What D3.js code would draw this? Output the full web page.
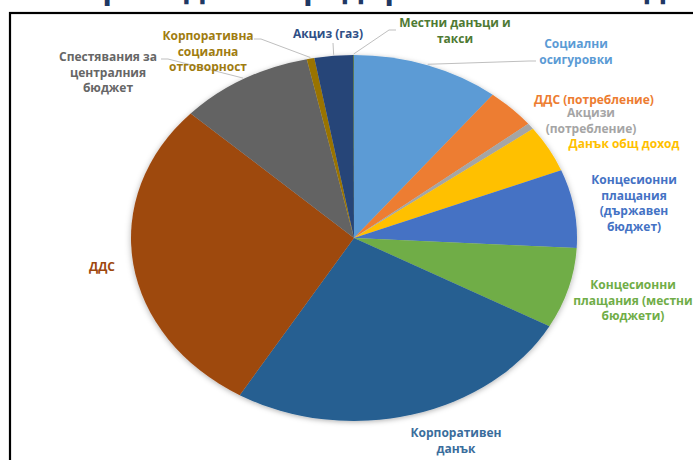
<!DOCTYPE html>
<html><head><meta charset="utf-8">
<script src="https://cdn.jsdelivr.net/npm/d3@7"></script>
<style>
html,body{margin:0;padding:0;background:#fff;overflow:hidden}
svg{display:block;font-family:"Open Sans",sans-serif}
</style></head>
<body>
<svg id="chart" width="693" height="460"></svg>
<script>
// ---- data ----
const categories = [
  "Социални осигуровки","ДДС (потребление)","Акцизи (потребление)","Данък общ доход",
  "Концесионни плащания (държавен бюджет)","Концесионни плащания (местни бюджети)",
  "Корпоративен данък","ДДС","Спестявания за централния бюджет",
  "Корпоративна социална отговорност","Акциз (газ)","Местни данъци и такси"
];
const values = [10.7, 3.6, 0.55, 4.15, 6.9, 7.15, 25.6, 28.4, 9.7, 0.55, 2.8, 0.05];
const labelLines = [
  ["Социални","осигуровки"],["ДДС (потребление)"],["Акцизи","(потребление)"],["Данък общ доход"],
  ["Концесионни","плащания","(държавен","бюджет)"],["Концесионни","плащания (местни","бюджети)"],
  ["Корпоративен","данък"],["ДДС"],["Спестявания за","централния","бюджет"],
  ["Корпоративна","социална","отговорност"],["Акциз (газ)"],["Местни данъци и","такси"]
];
const titleText = "Бюджетни приходи от предприятието по вид приход";

// ---- styles / layout ----
const palette = ["#5B9BD5","#ED7D31","#A5A5A5","#FFC000","#4472C4","#70AD47",
                 "#255E91","#9E480E","#636363","#997300","#264478","#43682B"];
const labelColors = ["#5B9BD5","#ED7D31","#A5A5A5","#FFC000","#4472C4","#70AD47",
                 "#3A6D9C","#9E480E","#666666","#A07C10","#2F4F86","#4E7A33"];
// label anchor: [centerX, firstBaselineY]
const labelPos = [[576,48],[594,104],[591,117],[624,148],[634,184],[633,289],
                  [456,437],[102,271],[108,61],[208,40],[328,38],[455,27]];
// leader start points (near label) or null
const leaderStart = [[536,61],null,null,null,null,null,null,null,[161,59],[254,39],[333,43],[396,30]];
const lineH = 15.5;

const svg = d3.select("#chart");
const cx = 354, cy = 238, rx = 223, ry = 183;

// title (cut off at top, only descenders visible)
svg.append("text").attr("x",346).attr("y",-2).attr("text-anchor","middle")
  .attr("font-size",32).attr("font-weight",700).attr("fill","#1F3864").text(titleText);

// frame
svg.append("rect").attr("x",10).attr("y",13).attr("width",700).attr("height",470)
  .attr("fill","none").attr("stroke","#000").attr("stroke-width",2.2);

const defs = svg.append("defs");
const f = defs.append("filter").attr("id","sh").attr("x","-10%").attr("y","-10%").attr("width","120%").attr("height","120%");
f.append("feDropShadow").attr("dx",0).attr("dy",1.5).attr("stdDeviation",3)
  .attr("flood-color","#000").attr("flood-opacity",0.3);

const pie = d3.pie().sort(null).value(d=>d);
const arcs = pie(values);
const arc = d3.arc().innerRadius(0).outerRadius(rx);

const g = svg.append("g").attr("transform",`translate(${cx},${cy}) scale(1,${ry/rx})`);
const pg = g.append("g").attr("filter","url(#sh)");
pg.selectAll("path").data(arcs).join("path")
  .attr("d",arc).attr("fill",(d,i)=>palette[i]);

// leader lines
arcs.forEach((d,i)=>{
  if(!leaderStart[i]) return;
  const a = (d.startAngle+d.endAngle)/2;
  const ex = cx + (rx+1)*Math.sin(a), ey = cy - (ry+1)*Math.cos(a);
  const [sx,sy] = leaderStart[i];
  const dir = ex > sx ? 1 : -1;
  const pts = (Math.abs(ex-sx) < 3) ? [[sx,sy],[ex,ey]] : [[sx,sy],[sx+dir*7,sy],[ex,ey]];
  svg.append("path").attr("d",d3.line()(pts)).attr("fill","none")
    .attr("stroke","#BFBFBF").attr("stroke-width",1);
});

// labels
labelLines.forEach((lines,i)=>{
  const [x,y] = labelPos[i];
  const t = svg.append("text").attr("text-anchor","middle").attr("font-size",12)
    .attr("font-weight",700).attr("fill",labelColors[i]);
  lines.forEach((s,j)=>t.append("tspan").attr("x",x).attr("y",y+j*lineH).text(s));
});
</script>
</body></html>
